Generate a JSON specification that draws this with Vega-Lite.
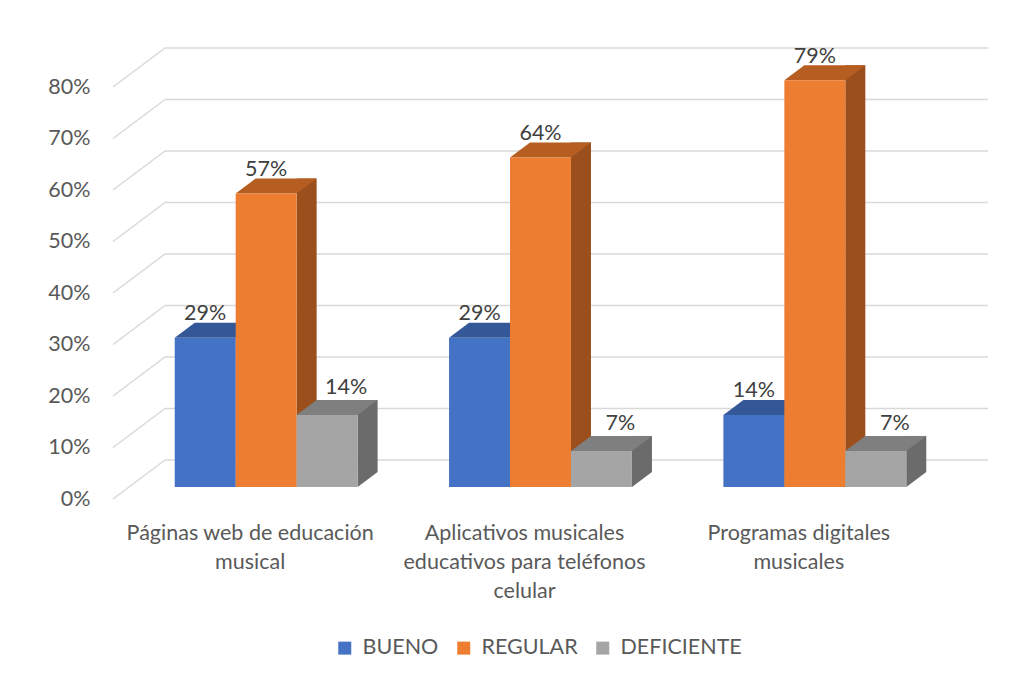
{
  "$schema": "https://vega.github.io/schema/vega-lite/v6.json",
  "width": 823,
  "height": 412,
  "autosize": {"type": "none"},
  "padding": {"left": 129, "top": 75, "right": 80, "bottom": 192},
  "background": "white",
  "config": {"view": {"stroke": null}, "font": "Lato"},
  "datasets": {
    "barras": [
      {"categoria": "Páginas web de educación musical", "nivel": "BUENO", "valor": 0.29},
      {"categoria": "Páginas web de educación musical", "nivel": "REGULAR", "valor": 0.57},
      {"categoria": "Páginas web de educación musical", "nivel": "DEFICIENTE", "valor": 0.14},
      {"categoria": "Aplicativos musicales educativos para teléfonos celular", "nivel": "BUENO", "valor": 0.29},
      {"categoria": "Aplicativos musicales educativos para teléfonos celular", "nivel": "REGULAR", "valor": 0.64},
      {"categoria": "Aplicativos musicales educativos para teléfonos celular", "nivel": "DEFICIENTE", "valor": 0.07},
      {"categoria": "Programas digitales musicales", "nivel": "BUENO", "valor": 0.14},
      {"categoria": "Programas digitales musicales", "nivel": "REGULAR", "valor": 0.79},
      {"categoria": "Programas digitales musicales", "nivel": "DEFICIENTE", "valor": 0.07}
    ],
    "lineas": [
      {"t": 0}, {"t": 0.1}, {"t": 0.2}, {"t": 0.3}, {"t": 0.4},
      {"t": 0.5}, {"t": 0.6}, {"t": 0.7}, {"t": 0.8}
    ]
  },
  "data": {"name": "barras"},
  "encoding": {
    "x": {
      "field": "categoria",
      "type": "nominal",
      "sort": ["Páginas web de educación musical", "Aplicativos musicales educativos para teléfonos celular", "Programas digitales musicales"],
      "scale": {"paddingInner": 0.33333, "paddingOuter": 0.16667},
      "title": null,
      "axis": {
        "domain": false, "ticks": false, "tickSize": 0, "grid": false,
        "labelPadding": 52, "labelBaseline": "alphabetic", "labelOffset": -16,
        "labelLineHeight": 29, "labelAngle": 0, "labelLimit": 0,
        "labelFont": "Lato", "labelFontSize": 21.5, "labelColor": "#595959",
        "labelExpr": "datum.value == 'Páginas web de educación musical' ? ['Páginas web de educación', 'musical'] : datum.value == 'Aplicativos musicales educativos para teléfonos celular' ? ['Aplicativos musicales', 'educativos para teléfonos', 'celular'] : ['Programas digitales', 'musicales']"
      }
    },
    "y": {
      "field": "valor",
      "type": "quantitative",
      "scale": {"domain": [0, 0.8], "nice": false},
      "title": null,
      "axis": {
        "values": [0, 0.1, 0.2, 0.3, 0.4, 0.5, 0.6, 0.7, 0.8],
        "format": ".0%", "grid": false, "domain": false, "ticks": false, "tickSize": 0,
        "labelPadding": 39, "labelOffset": 12, "labelOverlap": false, "labelFlush": false,
        "labelFont": "Lato", "labelFontSize": 21.5, "labelColor": "#595959"
      }
    }
  },
  "layer": [
    {
      "data": {"name": "lineas"},
      "mark": {"type": "rule", "color": "#d9d9d9", "strokeWidth": 1.5, "xOffset": -16, "x2Offset": 36, "yOffset": 12, "y2Offset": -27},
      "encoding": {
        "x": {"value": 0},
        "x2": {"value": 0},
        "y": {
          "field": "t", "type": "quantitative", "title": null,
          "scale": {"domain": [0, 0.8], "nice": false},
          "axis": {
            "values": [0, 0.1, 0.2, 0.3, 0.4, 0.5, 0.6, 0.7, 0.8],
            "format": ".0%", "grid": false, "domain": false, "ticks": false, "tickSize": 0,
            "labelPadding": 39, "labelOffset": 12, "labelOverlap": false, "labelFlush": false,
            "labelFont": "Lato", "labelFontSize": 21.5, "labelColor": "#595959"
          }
        },
        "y2": {"field": "t"}
      }
    },
    {
      "data": {"name": "lineas"},
      "mark": {"type": "rule", "color": "#d9d9d9", "strokeWidth": 1.5, "xOffset": 36, "x2Offset": 36, "yOffset": -27, "y2Offset": -27},
      "encoding": {
        "x": {"value": 0},
        "x2": {"value": "width"},
        "y": {
          "field": "t", "type": "quantitative", "title": null,
          "scale": {"domain": [0, 0.8], "nice": false},
          "axis": {
            "values": [0, 0.1, 0.2, 0.3, 0.4, 0.5, 0.6, 0.7, 0.8],
            "format": ".0%", "grid": false, "domain": false, "ticks": false, "tickSize": 0,
            "labelPadding": 39, "labelOffset": 12, "labelOverlap": false, "labelFlush": false,
            "labelFont": "Lato", "labelFontSize": 21.5, "labelColor": "#595959"
          }
        },
        "y2": {"field": "t"}
      }
    },
    {
      "mark": {"type": "bar", "yOffset": -15, "y2Offset": -15},
      "encoding": {
        "xOffset": {"field": "nivel", "type": "nominal", "scale": {"domain": ["BUENO", "REGULAR", "DEFICIENTE"], "range": [60.963, 202.889], "paddingInner": 0.6719, "paddingOuter": 0}},
        "fill": {"field": "nivel", "type": "nominal", "scale": {"domain": ["BUENO", "REGULAR", "DEFICIENTE"], "range": ["#2c4a7f", "#9a4f1d", "#6b6b6b"]}, "legend": null}
      }
    },
    {
      "mark": {"type": "point", "shape": "M-30.5,0L-10.5,-15L50.5,-15L30.5,0Z", "size": 4, "filled": true, "opacity": 1, "strokeWidth": 0},
      "encoding": {
        "xOffset": {"field": "nivel", "type": "nominal", "scale": {"domain": ["BUENO", "REGULAR", "DEFICIENTE"]}},
        "fill": {"field": "nivel", "type": "nominal", "scale": {"domain": ["BUENO", "REGULAR", "DEFICIENTE"], "range": ["#345897", "#b65e22", "#7f7f7f"]}, "legend": null}
      }
    },
    {
      "mark": {"type": "point", "shape": "M30.5,-15L30.5,0L50.5,-15Z", "size": 4, "filled": true, "opacity": 1, "strokeWidth": 0},
      "encoding": {
        "y": {"datum": 0, "type": "quantitative"},
        "xOffset": {"field": "nivel", "type": "nominal", "scale": {"domain": ["BUENO", "REGULAR", "DEFICIENTE"]}},
        "fill": {"field": "nivel", "type": "nominal", "scale": {"domain": ["BUENO", "REGULAR", "DEFICIENTE"], "range": ["#2c4a7f", "#9a4f1d", "#6b6b6b"]}, "legend": null}
      }
    },
    {
      "mark": {"type": "bar"},
      "encoding": {
        "xOffset": {"field": "nivel", "type": "nominal", "scale": {"domain": ["BUENO", "REGULAR", "DEFICIENTE"]}},
        "color": {
          "field": "nivel", "type": "nominal",
          "scale": {"domain": ["BUENO", "REGULAR", "DEFICIENTE"], "range": ["#4472c4", "#ed7d31", "#a5a5a5"]},
          "legend": {
            "orient": "none", "legendX": 205, "legendY": 562, "direction": "horizontal", "title": null,
            "symbolType": "square", "symbolSize": 169, "symbolStrokeWidth": 0, "symbolOpacity": 1,
            "labelFont": "Lato", "labelFontSize": 21.5, "labelColor": "#595959", "labelOffset": 7,
            "columnPadding": 14, "padding": 0
          }
        }
      }
    },
    {
      "transform": [{"filter": "datum.nivel != 'DEFICIENTE'"}],
      "mark": {"type": "text", "baseline": "alphabetic", "align": "center", "dy": -17.5, "font": "Lato", "fontSize": 21.5, "color": "#404040"},
      "encoding": {
        "xOffset": {"field": "nivel", "type": "nominal", "scale": {"domain": ["BUENO", "REGULAR", "DEFICIENTE"]}},
        "text": {"field": "valor", "type": "quantitative", "format": ".0%"}
      }
    },
    {
      "transform": [{"filter": "datum.nivel == 'DEFICIENTE'"}],
      "mark": {"type": "text", "baseline": "alphabetic", "align": "center", "dy": -20.5, "dx": 19, "font": "Lato", "fontSize": 21.5, "color": "#404040"},
      "encoding": {
        "xOffset": {"field": "nivel", "type": "nominal", "scale": {"domain": ["BUENO", "REGULAR", "DEFICIENTE"]}},
        "text": {"field": "valor", "type": "quantitative", "format": ".0%"}
      }
    }
  ],
  "resolve": {"scale": {"xOffset": "independent", "fill": "independent"}}
}
